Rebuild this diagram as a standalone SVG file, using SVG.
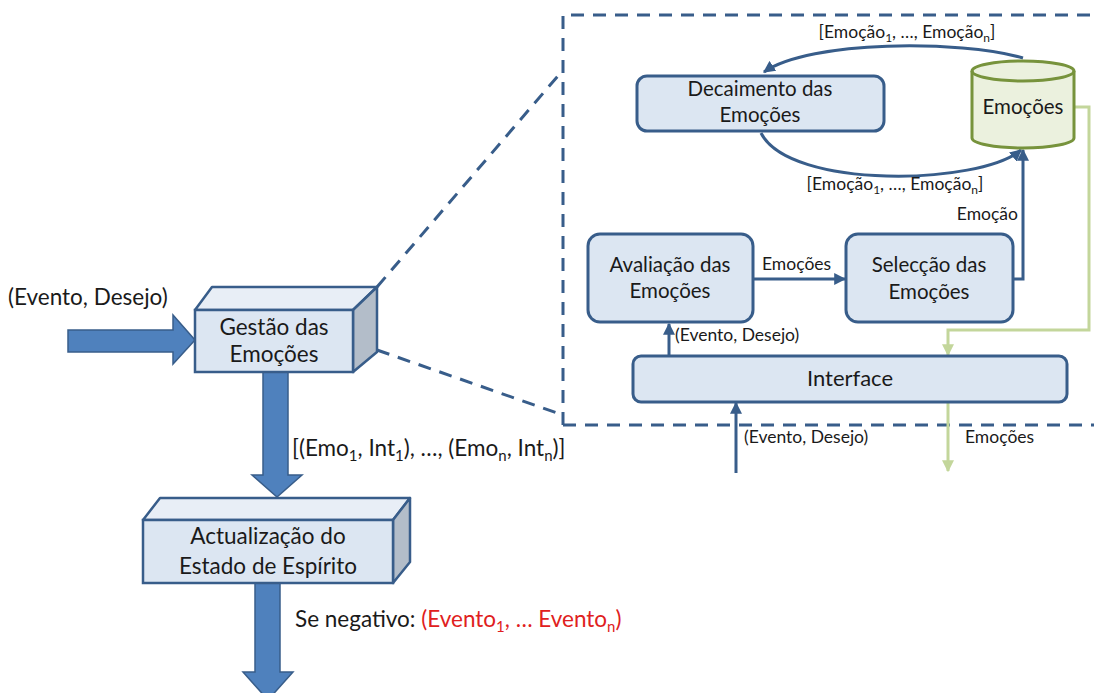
<svg xmlns="http://www.w3.org/2000/svg" width="1094" height="693" viewBox="0 0 1094 693">
<style>
text{font-family:Lato,"Open Sans","Liberation Sans",sans-serif;fill:#1a1a1a}
.front{fill:#DCE6F2;stroke:#385D8A;stroke-width:2.5}
.top{fill:#E8EEF6;stroke:#385D8A;stroke-width:2.5;stroke-linejoin:round}
.side{fill:#B3BDC9;stroke:#385D8A;stroke-width:2.5;stroke-linejoin:round}
.fat{fill:#4F81BD;stroke:#385D8A;stroke-width:1.5}
.rbox{fill:#DCE6F2;stroke:#385D8A;stroke-width:3}
.dash{fill:none;stroke:#385D8A;stroke-width:3;stroke-dasharray:13 9}
.bl{fill:none;stroke:#385D8A;stroke-width:3;marker-end:url(#ab)}
.gr{fill:none;stroke:#C3D69B;stroke-width:3;marker-end:url(#ag)}
.big{font-size:22.5px}
.mid{font-size:20.5px}
.sm{font-size:17.5px}
</style>
<defs>
<marker id="ab" viewBox="0 0 10 10" refX="9" refY="5" markerWidth="12" markerHeight="12" markerUnits="userSpaceOnUse" orient="auto"><path d="M0,0 L10,5 L0,10 Z" fill="#385D8A"/></marker>
<marker id="ag" viewBox="0 0 10 10" refX="9" refY="5" markerWidth="12" markerHeight="12" markerUnits="userSpaceOnUse" orient="auto"><path d="M0,0 L10,5 L0,10 Z" fill="#C3D69B"/></marker>
</defs>

<g id="connectors">
<path class="fat" d="M68,330 H173 V315 L195,340 L173,364 V352 H68 Z"/>
<path class="fat" d="M263,370 V475 H252 L277,497 L302,475 H288 V370 Z"/>
<path class="fat" d="M255,583 V672 H243 L268,700 L293,672 H280 V583 Z"/>
<path class="dash" d="M377,287 L563,70"/>
<path class="dash" d="M377,350 L563,415"/>
<path class="dash" d="M563,425 V15 H1094"/>
<path class="dash" d="M563,425 H1094"/>
<path class="bl" d="M1023,58 C960,40 810,40 764,72"/>
<path class="bl" d="M761,133 C790,190 980,185 1021,150"/>
<path class="bl" d="M1013,279 H1023 V150"/>
<path class="bl" d="M754,279 H845"/>
<path class="bl" d="M669,356 V324"/>
<path class="bl" d="M736,473 V403"/>
<path class="gr" d="M1074,107 H1089 V330 H948 V355"/>
<path class="gr" d="M948,402 V471"/>
</g>

<g id="labels">
<text class="big" x="8" y="305">(Evento, Desejo)</text>
<text class="big" x="292" y="456">[(Emo<tspan font-size="15" dy="5">1</tspan><tspan dy="-5">, Int</tspan><tspan font-size="15" dy="5">1</tspan><tspan dy="-5">), …, (Emo</tspan><tspan font-size="15" dy="5">n</tspan><tspan dy="-5">, Int</tspan><tspan font-size="15" dy="5">n</tspan><tspan dy="-5">)]</tspan></text>
<text class="big" x="295" y="627">Se negativo: <tspan fill="#E02020">(Evento</tspan><tspan fill="#E02020" font-size="15" dy="5">1</tspan><tspan fill="#E02020" dy="-5">, … Evento</tspan><tspan fill="#E02020" font-size="15" dy="5">n</tspan><tspan fill="#E02020" dy="-5">)</tspan></text>
<text class="sm" x="907" y="38" text-anchor="middle">[Emoção<tspan font-size="12" dy="4">1</tspan><tspan dy="-4">, …, Emoção</tspan><tspan font-size="12" dy="4">n</tspan><tspan dy="-4">]</tspan></text>
<text class="sm" x="895" y="190" text-anchor="middle">[Emoção<tspan font-size="12" dy="4">1</tspan><tspan dy="-4">, …, Emoção</tspan><tspan font-size="12" dy="4">n</tspan><tspan dy="-4">]</tspan></text>
<text class="sm" x="1018" y="220" text-anchor="end">Emoção</text>
<text class="sm" x="762" y="270">Emoções</text>
<text class="sm" x="675" y="341">(Evento, Desejo)</text>
<text class="sm" x="744" y="443">(Evento, Desejo)</text>
<text class="sm" x="965" y="443">Emoções</text>
</g>

<g id="gestao">
<polygon class="top" points="195,310 212,287 377,287 353,310"/>
<polygon class="side" points="353,310 377,287 377,352 353,372"/>
<rect class="front" x="195" y="310" width="158" height="62"/>
<text class="big" x="274" y="335" text-anchor="middle">Gestão das</text>
<text class="big" x="274" y="362" text-anchor="middle">Emoções</text>
</g>

<g id="actualizacao">
<polygon class="top" points="143,520 160,498 410,498 393,520"/>
<polygon class="side" points="393,520 410,498 410,562 393,583"/>
<rect class="front" x="143" y="520" width="250" height="63"/>
<text class="big" x="268" y="544" text-anchor="middle">Actualização do</text>
<text class="big" x="268" y="574" text-anchor="middle">Estado de Espírito</text>
</g>

<g id="decaimento">
<rect class="rbox" x="637" y="76" width="247" height="55" rx="10"/>
<text class="mid" x="760" y="96" text-anchor="middle">Decaimento das</text>
<text class="mid" x="760" y="122" text-anchor="middle">Emoções</text>
</g>

<g id="emocoes-store">
<path d="M972,71 V138 A51,10 0 0 0 1074,138 V71 A51,10 0 0 0 972,71 Z" fill="#EBF1DE" stroke="#77933C" stroke-width="3"/>
<path d="M972,71 A51,10 0 0 0 1074,71" fill="none" stroke="#77933C" stroke-width="3"/>
<text class="mid" x="1023" y="114" text-anchor="middle">Emoções</text>
</g>

<g id="avaliacao">
<rect class="rbox" x="588" y="234" width="165" height="88" rx="12"/>
<text class="mid" x="670" y="272" text-anchor="middle">Avaliação das</text>
<text class="mid" x="670" y="298" text-anchor="middle">Emoções</text>
</g>

<g id="seleccao">
<rect class="rbox" x="846" y="234" width="167" height="88" rx="12"/>
<text class="mid" x="929" y="272" text-anchor="middle">Selecção das</text>
<text class="mid" x="929" y="299" text-anchor="middle">Emoções</text>
</g>

<g id="interface">
<rect class="rbox" x="633" y="356" width="434" height="46" rx="8"/>
<text x="850" y="386" text-anchor="middle" font-size="22px">Interface</text>
</g>
</svg>
